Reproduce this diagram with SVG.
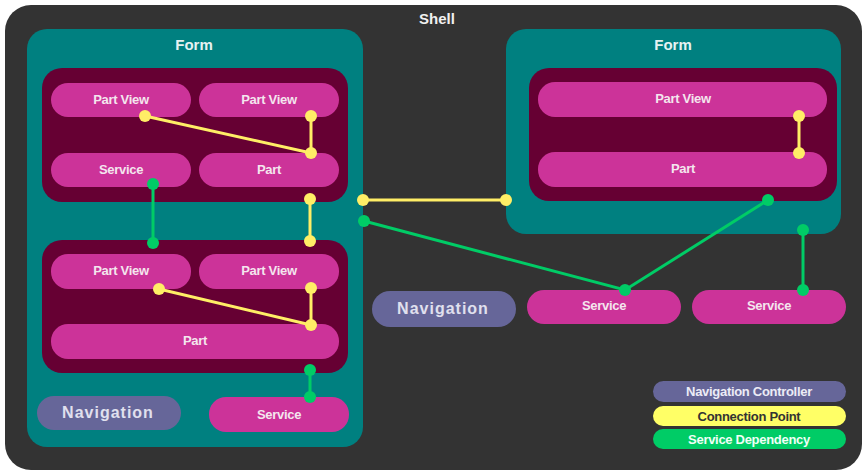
<svg xmlns="http://www.w3.org/2000/svg" width="867" height="475" viewBox="0 0 867 475">
<style>
.shell{fill:#333333}
.form{fill:#008080}
.inner{fill:#660033}
.pill{fill:#cc3399}
.nav{fill:#666699}
text{font-family:"Liberation Sans",Arial,sans-serif;font-weight:bold;text-anchor:middle}
.lbl{font-size:13px;fill:#f4e6ee;letter-spacing:-0.3px}
.title{font-size:15px;fill:#e6f2f2}
.navt{font-size:16px;fill:#e0e0ee;letter-spacing:1px}
.yl{stroke:#ffee66;stroke-width:3;fill:none}
.gl{stroke:#00cc66;stroke-width:3;fill:none}
.yd{fill:#ffee66}
.gd{fill:#00cc66}
.leg{font-size:13px;letter-spacing:-0.3px}
</style>
<rect width="867" height="475" fill="#ffffff"/>
<g id="shell">
<rect class="shell" x="5" y="5" width="857" height="465" rx="26"/>
<text x="437" y="24" class="title" style="fill:#f0f0f0">Shell</text>
</g>
<g id="form-left">
<rect class="form" x="27" y="29" width="336" height="418" rx="20"/>
<text x="194" y="50" class="title">Form</text>
</g>
<g id="form-left-top">
<rect class="inner" x="42" y="68" width="306" height="134" rx="20"/>
</g>
<g id="pv1"><rect class="pill" x="51" y="83" width="140" height="34" rx="17"/><text x="121" y="104" class="lbl">Part View</text></g>
<g id="pv2"><rect class="pill" x="199" y="83" width="140" height="34" rx="17"/><text x="269" y="104" class="lbl">Part View</text></g>
<g id="svc1"><rect class="pill" x="51" y="153" width="140" height="34" rx="17"/><text x="121" y="174" class="lbl">Service</text></g>
<g id="part1"><rect class="pill" x="199" y="153" width="140" height="34" rx="17"/><text x="269" y="174" class="lbl">Part</text></g>
<g id="form-left-bottom">
<rect class="inner" x="42" y="240" width="306" height="133" rx="20"/>
</g>
<g id="pv3"><rect class="pill" x="51" y="254" width="140" height="35" rx="17"/><text x="121" y="275" class="lbl">Part View</text></g>
<g id="pv4"><rect class="pill" x="199" y="254" width="140" height="35" rx="17"/><text x="269" y="275" class="lbl">Part View</text></g>
<g id="part2"><rect class="pill" x="51" y="324" width="288" height="35" rx="17"/><text x="195" y="345" class="lbl">Part</text></g>
<g id="nav1"><rect class="nav" x="37" y="396" width="144" height="34" rx="17"/><text x="108" y="418" class="navt">Navigation</text></g>
<g id="svc2"><rect class="pill" x="209" y="397" width="140" height="35" rx="17"/><text x="279" y="419" class="lbl">Service</text></g>
<g id="nav2"><rect class="nav" x="372" y="291" width="144" height="36" rx="18"/><text x="443" y="314" class="navt">Navigation</text></g>
<g id="form-right">
<rect class="form" x="506" y="29" width="335" height="205" rx="20"/>
<text x="673" y="50" class="title">Form</text>
<rect class="inner" x="529" y="68" width="308" height="133" rx="20"/>
</g>
<g id="pv5"><rect class="pill" x="538" y="82" width="289" height="35" rx="17"/><text x="683" y="103" class="lbl">Part View</text></g>
<g id="part3"><rect class="pill" x="538" y="152" width="289" height="35" rx="17"/><text x="683" y="173" class="lbl">Part</text></g>
<g id="svc3"><rect class="pill" x="527" y="290" width="154" height="34" rx="17"/><text x="604" y="310" class="lbl">Service</text></g>
<g id="svc4"><rect class="pill" x="692" y="290" width="154" height="34" rx="17"/><text x="769" y="310" class="lbl">Service</text></g>
<g id="connectors">
<path class="yl" d="M145 116 L311 153 M311 116 L311 153"/>
<path class="yl" d="M159 289 L311 325 M311 288 L311 325"/>
<path class="yl" d="M310 199 L310 241"/>
<path class="yl" d="M363 200 L506 200"/>
<path class="yl" d="M799 116 L799 153"/>
<path class="gl" d="M153 184 L153 243"/>
<path class="gl" d="M310 370 L310 397"/>
<path class="gl" d="M364 221 L625 290 L768 200"/>
<path class="gl" d="M803 230 L803 290"/>
<g class="yd">
<circle cx="145" cy="116" r="6"/><circle cx="311" cy="116" r="6"/><circle cx="311" cy="153" r="6"/>
<circle cx="159" cy="289" r="6"/><circle cx="311" cy="288" r="6"/><circle cx="311" cy="325" r="6"/>
<circle cx="310" cy="199" r="6"/><circle cx="310" cy="241" r="6"/>
<circle cx="363" cy="200" r="6"/><circle cx="506" cy="200" r="6"/>
<circle cx="799" cy="116" r="6"/><circle cx="799" cy="153" r="6"/>
</g>
<g class="gd">
<circle cx="153" cy="184" r="6"/><circle cx="153" cy="243" r="6"/>
<circle cx="310" cy="370" r="6"/><circle cx="310" cy="397" r="6"/>
<circle cx="364" cy="221" r="6"/><circle cx="625" cy="290" r="6"/><circle cx="768" cy="200" r="6"/>
<circle cx="803" cy="230" r="6"/><circle cx="803" cy="290" r="6"/>
</g>
</g>
<g id="legend">
<rect class="nav" x="653" y="381" width="193" height="21" rx="10.5"/>
<text x="749" y="396" class="leg" fill="#ececf6">Navigation Controller</text>
<rect x="653" y="406" width="193" height="20" rx="10" fill="#ffff66"/>
<text x="749" y="421" class="leg" fill="#333333">Connection Point</text>
<rect x="653" y="429" width="193" height="20" rx="10" fill="#00cc66"/>
<text x="749" y="444" class="leg" fill="#f0fff6">Service Dependency</text>
</g>
</svg>
